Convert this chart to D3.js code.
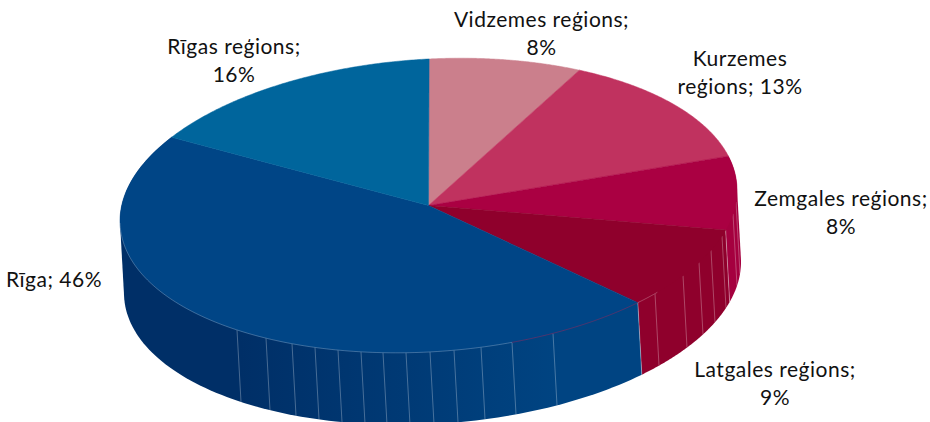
<!DOCTYPE html>
<html>
<head>
<meta charset="utf-8">
<script src="https://cdn.jsdelivr.net/npm/d3@7"></script>
<style>
  html, body { margin: 0; padding: 0; background: #fff; }
  text { font-family: Lato, "Open Sans", sans-serif; font-size: 21px; letter-spacing: 0.5px; fill: #111; }
</style>
</head>
<body>
<svg id="chart" width="930" height="422"></svg>
<script>
// Shares read off the slice angles, so they are not the rounded labels
var regions = ["Vidzemes reģions", "Kurzemes reģions", "Zemgales reģions", "Latgales reģions", "Rīga", "Rīgas reģions"];
var shares = [8.1, 13.1, 8.1, 8.8, 46.2, 15.7];
var topColors = ["#cb7f8c", "#c0325f", "#aa0042", "#8f002c", "#004586", "#00659c"];
var wallColors = ["#a8647a", "#9c2850", "#a5003f", "#8f002c", "#003a75", "#005585"];

// lines on the side of the pie, given as x on the top rim
var facetsRiga = [237, 266, 292, 315, 338, 361, 383, 406, 430, 454, 481, 512, 553];
var facetsLatgale = [655, 683, 699, 711, 722];
var facetsZemgale = [733, 736];

var width = 930, height = 422;
var cx = 428.5, cy = 205.5, rx = 308.5, ry = 146.5, shear = 0.05;
var depthX = 4, depthY = 72;

var svg = d3.select("#chart");

var point = function(t, bottom) {
  var x = rx * Math.sin(t);
  var y = -ry * Math.cos(t) - shear * x;
  return bottom ? [cx + x + depthX, cy + y + depthY] : [cx + x, cy + y];
};

var rimAngles = function(a, b) {
  return d3.range(0, 121).map(function(i) { return a + (b - a) * i / 120; });
};

var line = d3.line();

var pie = d3.pie().sort(null).startAngle(0.002).endAngle(Math.PI * 2 + 0.002);
var slices = pie(shares);

var gradient = svg.append("defs").append("linearGradient")
  .attr("id", "rigaWall")
  .attr("gradientUnits", "userSpaceOnUse")
  .attr("x1", 240).attr("x2", 560).attr("y1", 0).attr("y2", 0);
gradient.append("stop").attr("offset", 0).attr("stop-color", "#002f67");
gradient.append("stop").attr("offset", 1).attr("stop-color", "#004482");

//// side of the pie: only Zemgale, Latgale and Riga can be seen
// hull, because the rims cross at the far left and right of the pie
svg.selectAll("path.wall")
  .data(slices.filter(function(d) { return d.index >= 2 && d.index <= 4; }))
  .enter().append("path")
  .attr("class", "wall")
  .attr("fill", function(d) { return d.index == 4 ? "url(#rigaWall)" : wallColors[d.index]; })
  .attr("d", function(d) {
    var ts = rimAngles(d.startAngle, d.endAngle);
    var pts = ts.map(function(t) { return point(t, false); })
      .concat(ts.map(function(t) { return point(t, true); }));
    return line(d3.polygonHull(pts)) + "Z";
  });

var facetLine = function(x) {
  var t = Math.PI - Math.asin((x - cx) / rx);
  if (x < cx) t = Math.PI + Math.asin((cx - x) / rx);
  return line([point(t, false), point(t, true)]);
};

svg.selectAll("path.facet")
  .data(facetsRiga.concat(facetsLatgale, facetsZemgale))
  .enter().append("path")
  .attr("class", "facet")
  .attr("d", facetLine)
  .attr("fill", "none")
  .attr("stroke", "#fff")
  .attr("stroke-opacity", 0.28)
  .attr("stroke-width", 1);

// edges between the side slices
[3, 4].forEach(function(i) {
  var t = slices[i].startAngle;
  svg.append("path")
    .attr("d", line([point(t, false), point(t, true)]))
    .attr("stroke", "#fff")
    .attr("stroke-opacity", 0.35)
    .attr("fill", "none");
});

//// top of the pie
svg.selectAll("path.top")
  .data(slices)
  .enter().append("path")
  .attr("class", "top")
  .attr("fill", function(d) { return topColors[d.index]; })
  .attr("stroke", function(d) { return topColors[d.index]; })
  .attr("stroke-width", 0.5)
  .attr("d", function(d) {
    var pts = [[cx, cy]].concat(rimAngles(d.startAngle, d.endAngle).map(function(t) { return point(t, false); }));
    return line(pts) + "Z";
  });

// light rim along the front of Riga, reddish near Latgale
var riga = slices[4];
var rimSplit = Math.PI - Math.asin((512 - cx) / rx);
svg.append("path")
  .attr("d", line(rimAngles(rimSplit, riga.startAngle).map(function(t) { return point(t, false); })))
  .attr("fill", "none").attr("stroke", "#8f2a5c").attr("stroke-opacity", 0.7).attr("stroke-width", 0.8);
svg.append("path")
  .attr("d", line(rimAngles(rimSplit, riga.endAngle - 0.6).map(function(t) { return point(t, false); })))
  .attr("fill", "none").attr("stroke", "#fff").attr("stroke-opacity", 0.3).attr("stroke-width", 0.8);
svg.append("path")
  .attr("d", line(rimAngles(riga.startAngle, riga.startAngle - 0.09).map(function(t) { return point(t, false); })))
  .attr("fill", "none").attr("stroke", "#fff").attr("stroke-opacity", 0.35).attr("stroke-width", 0.8);

//// labels
var percent = function(i) { return d3.format(".0f")(shares[i]) + "%"; };
var labels = [
  { lines: [regions[0] + ";", percent(0)], x: 541.5, y: 27 },
  { lines: ["Kurzemes", "reģions; " + percent(1)], x: 740, y: 66 },
  { lines: [regions[2] + ";", percent(2)], x: 841, y: 206 },
  { lines: [regions[3] + ";", percent(3)], x: 775, y: 377 },
  { lines: [regions[4] + "; " + percent(4)], x: 54, y: 287 },
  { lines: [regions[5] + ";", percent(5)], x: 234, y: 54 }
];

var label = svg.selectAll("text.label")
  .data(labels)
  .enter().append("text")
  .attr("class", "label")
  .attr("text-anchor", "middle");

label.selectAll("tspan")
  .data(function(d) {
    return d.lines.map(function(s, i) { return { s: s, x: d.x, y: d.y + i * 28 }; });
  })
  .enter().append("tspan")
  .attr("x", function(d) { return d.x; })
  .attr("y", function(d) { return d.y; })
  .text(function(d) { return d.s; });
</script>
</body>
</html>
